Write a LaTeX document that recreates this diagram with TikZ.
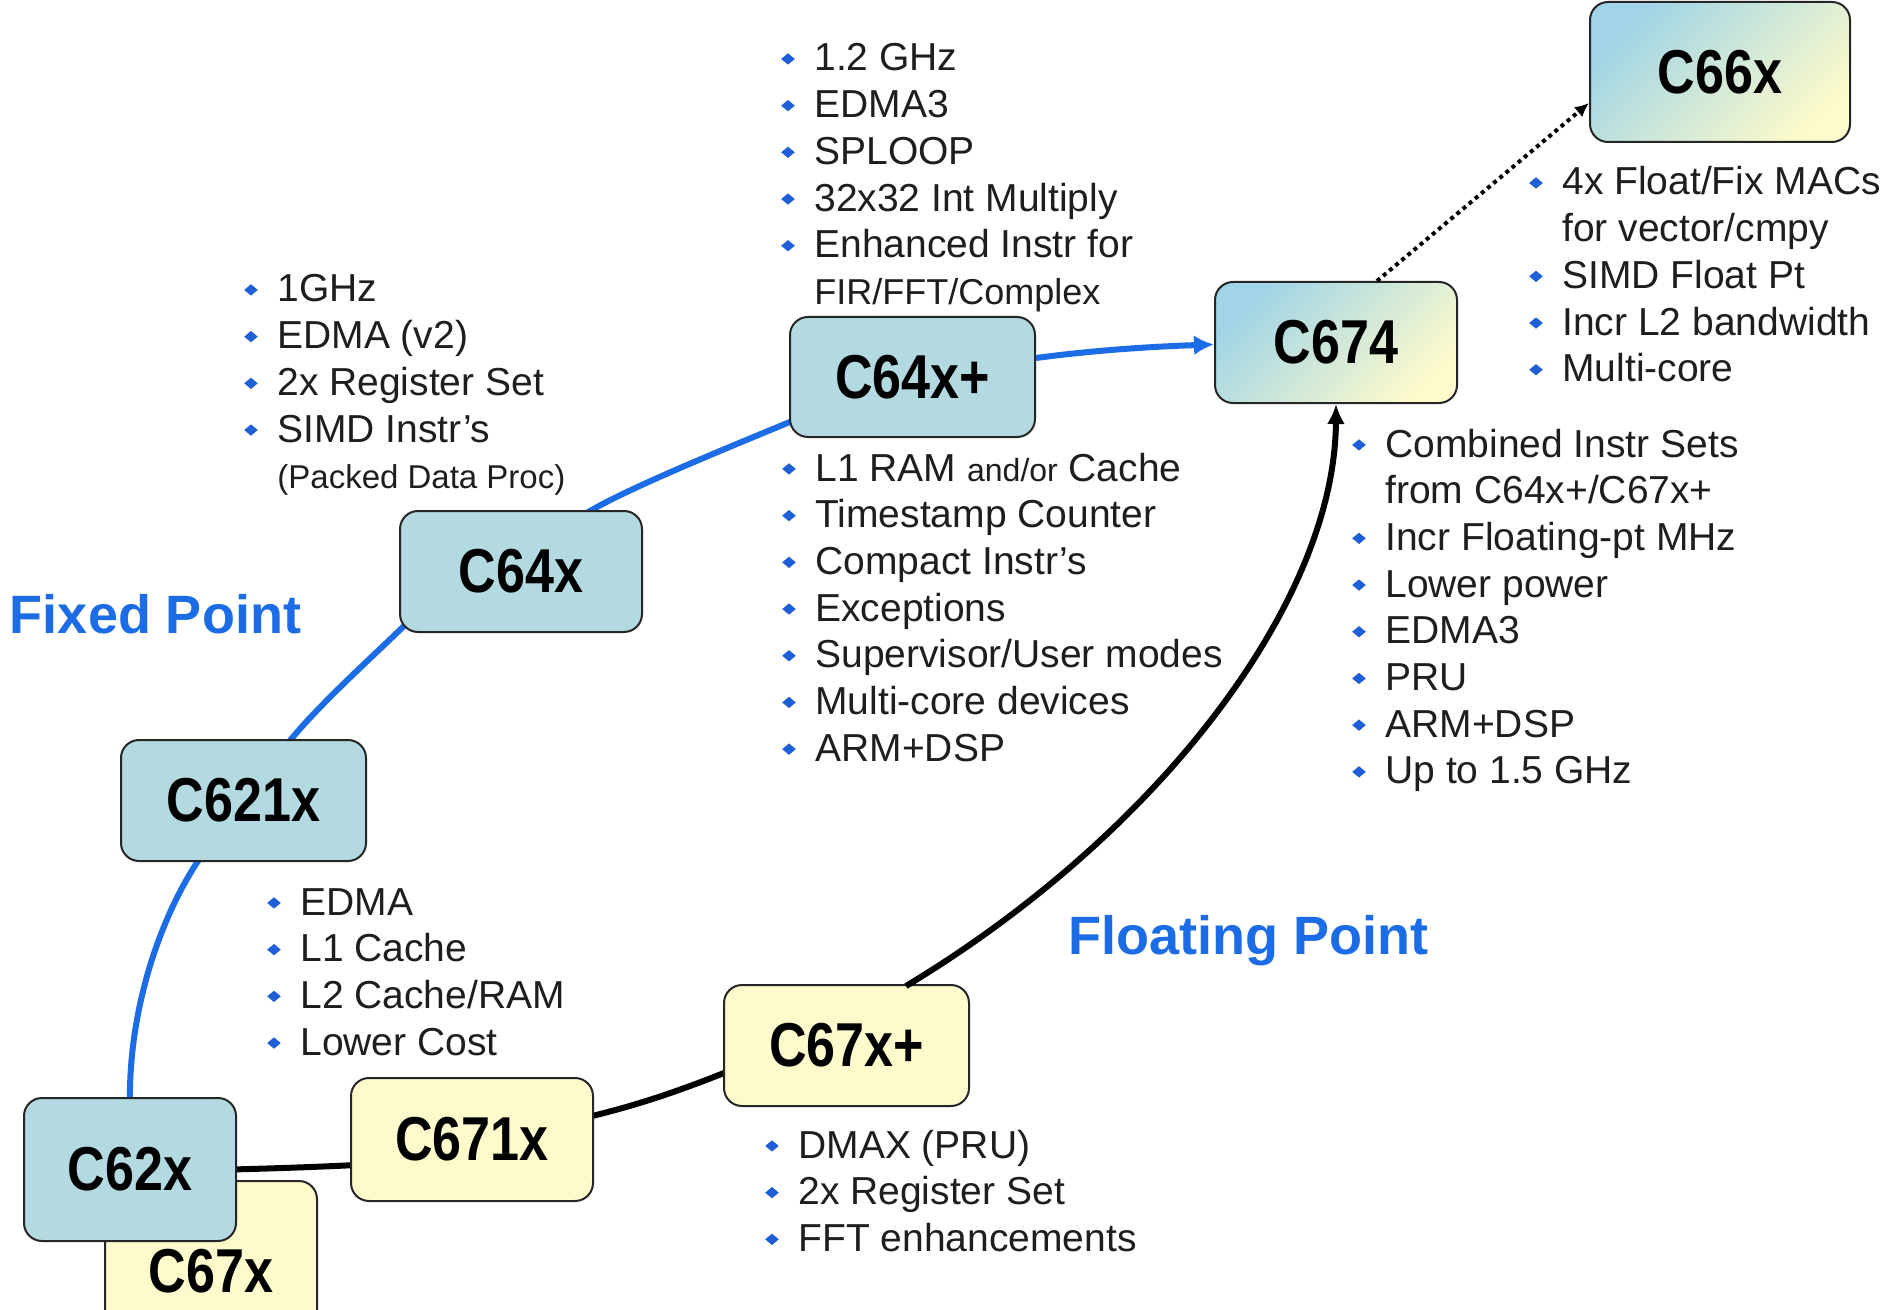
\documentclass[tikz,border=0pt]{standalone}
\usepackage{fontspec}
\usepackage{graphicx}
\setmainfont{Liberation Sans}
\newfontfamily\chipfont{Liberation Sans}[FakeStretch=0.84]
\usetikzlibrary{arrows.meta}
\pgfdeclarelayer{bg}
\pgfsetlayers{bg,main}
\definecolor{fixfill}{RGB}{178,218,224}
\definecolor{flofill}{RGB}{253,250,204}
\definecolor{gradblue}{RGB}{160,212,230}
\definecolor{lineblue}{RGB}{28,108,230}
\definecolor{bulblue}{RGB}{30,95,215}
\definecolor{txt}{RGB}{30,30,30}
\newcommand\bul{\makebox[16pt][l]{\hspace*{-0.6pt}\raisebox{3.2pt}{\textcolor{bulblue}{\scalebox{1.2}[1]{\rotatebox{45}{\rule{4pt}{4pt}}}}}}}
\newcommand\cnt{\hspace*{16pt}}
\tikzset{
  chip/.style={draw=black!85, line width=1pt, rounded corners=9pt, inner sep=0pt,
    font=\chipfont\bfseries\fontsize{31}{34}\selectfont},
  fixchip/.style={chip, fill=fixfill},
  flochip/.style={chip, fill=flofill},
  newchip/.style={chip, top color=gradblue, bottom color=flofill, shading angle=45},
  bluelink/.style={draw=lineblue, line width=3pt},
  blacklink/.style={draw=black, line width=3pt},
  notes/.style={anchor=base west, inner sep=0pt, text=txt,
    font=\fontsize{19.5}{23.35}\selectfont},
  family/.style={inner sep=0pt, text=lineblue, font=\bfseries\fontsize{27}{30}\selectfont}
}
\begin{document}
\begin{tikzpicture}[x=0.5pt,y=-0.5pt]
\useasboundingbox (0,0) rectangle (1899,1310);
\clip (0,0) rectangle (1899,1310);

% chips
\node[flochip, minimum width=106pt, minimum height=90pt] (c67x) at (211,1271) {C67x};
\node[fixchip, minimum width=106pt, minimum height=71.5pt] (c62x) at (130,1169.5) {C62x};
\node[fixchip, minimum width=122.5pt, minimum height=60.5pt] (c621x) at (243.5,800.5) {C621x};
\node[fixchip, minimum width=121pt, minimum height=60.5pt] (c64x) at (521,571.5) {C64x};
\node[fixchip, minimum width=122.5pt, minimum height=60pt] (c64xp) at (912.5,377) {C64x+};
\node[flochip, minimum width=121pt, minimum height=61.5pt] (c671x) at (472,1139.5) {C671x};
\node[flochip, minimum width=122.5pt, minimum height=60.5pt] (c67xp) at (846.5,1045.5) {C67x+};
\node[newchip, minimum width=121pt, minimum height=60.5pt] (c674) at (1336,342.5) {C674};
\node[newchip, minimum width=130pt, minimum height=70pt] (c66x) at (1720,72) {C66x};

% connectors
\begin{pgfonlayer}{bg}
\fill[white] (0,0) rectangle (1899,1310);
\draw[bluelink] ([yshift=-4pt]c62x.north) .. controls +(-2,-94) and +(-40,59) .. ([xshift=-21.75pt,yshift=2pt]c621x.south);
\draw[bluelink] ([xshift=22.25pt,yshift=-2pt]c621x.north) .. controls +(32,-40) and +(-30,30) .. ([xshift=5pt,yshift=6pt]c64x.south west);
\draw[bluelink] ([xshift=32pt,yshift=-2pt]c64x.north) .. controls +(40,-25) and +(-60,25) .. ([xshift=4pt,yshift=-21pt]c64xp.west);
\draw[blacklink] ([xshift=-3pt,yshift=0pt]c62x.east) .. controls +(40,-1) and +(-40,2) .. ([xshift=3pt,yshift=-12.75pt]c671x.west);
\draw[blacklink] ([xshift=-3pt,yshift=11.25pt]c671x.east) .. controls +(50,-12) and +(-50,20) .. ([xshift=3pt,yshift=-12.75pt]c67xp.west);
\end{pgfonlayer}
\draw[bluelink, -{Latex[length=10pt,width=10pt]}] ([yshift=9.5pt]c64xp.east) .. controls +(60,-8) and +(-60,2) .. ([yshift=-1pt]c674.west);
\draw[blacklink, -{Latex[length=10pt,width=9pt]}] ([xshift=29.75pt,yshift=-1pt]c67xp.north) .. controls +(254,-153) and +(-1,197) .. (c674.south);
\draw[black, line width=2pt, dash pattern=on 2pt off 2pt, -{Latex[length=7pt,width=6.5pt]}] ([xshift=20.5pt]c674.north) -- ([yshift=-15.5pt]c66x.west);

% notes
\node[notes] (n64ptop) at (782,71) {\begin{tabular}[t]{@{}l@{}}
\bul 1.2 GHz\\
\bul EDMA3\\
\bul SPLOOP\\
\bul 32x32 Int Multiply\\
\bul Enhanced Instr for\\
\cnt{\fontsize{18}{23.35}\selectfont FIR/FFT/Complex}
\end{tabular}};
\node[notes] (n64x) at (245,302) {\begin{tabular}[t]{@{}l@{}}
\bul 1GHz\\
\bul EDMA (v2)\\
\bul 2x Register Set\\
\bul SIMD Instr’s\\
\cnt{\fontsize{16.5}{23.35}\selectfont (Packed Data Proc)}
\end{tabular}};
\node[notes] (n64pbot) at (783,481) {\begin{tabular}[t]{@{}l@{}}
\bul L1 RAM {\fontsize{16}{23.35}\selectfont and/or} Cache\\
\bul Timestamp Counter\\
\bul Compact Instr’s\\
\bul Exceptions\\
\bul Supervisor/User modes\\
\bul Multi-core devices\\
\bul ARM+DSP
\end{tabular}};
\node[notes] (n66x) at (1530,195) {\begin{tabular}[t]{@{}l@{}}
\bul 4x Float/Fix MACs\\
\cnt for vector/cmpy\\
\bul SIMD Float Pt\\
\bul Incr L2 bandwidth\\
\bul Multi-core
\end{tabular}};
\node[notes] (n674) at (1353,457) {\begin{tabular}[t]{@{}l@{}}
\bul Combined Instr Sets\\
\cnt from C64x+/C67x+\\
\bul Incr Floating-pt MHz\\
\bul Lower power\\
\bul EDMA3\\
\bul PRU\\
\bul ARM+DSP\\
\bul Up to 1.5 GHz
\end{tabular}};
\node[notes] (n621x) at (268,915) {\begin{tabular}[t]{@{}l@{}}
\bul EDMA\\
\bul L1 Cache\\
\bul L2 Cache/RAM\\
\bul Lower Cost
\end{tabular}};
\node[notes] (n67xp) at (766,1158) {\begin{tabular}[t]{@{}l@{}}
\bul DMAX (PRU)\\
\bul 2x Register Set\\
\bul FFT enhancements
\end{tabular}};

% family labels
\node[family] (fixed) at (155.5,614) {Fixed Point};
\node[family] (float) at (1248,941) {Floating Point};
\end{tikzpicture}
\end{document}
